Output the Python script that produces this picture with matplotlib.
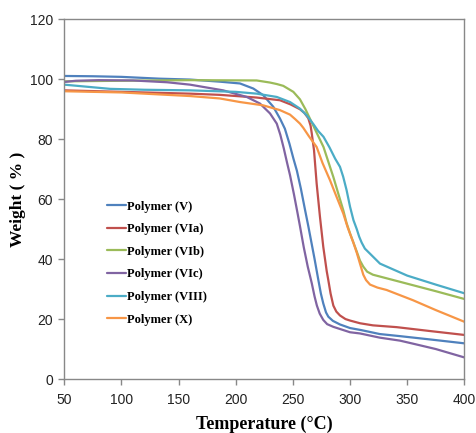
import matplotlib
matplotlib.use("Agg")
import matplotlib.pyplot as plt

# ---- data ----
t_v = [50, 75, 100, 133, 160, 186, 203.7, 215.4, 224, 232.9, 238.7, 243, 247, 250.5, 253.5, 257, 260.6, 263.5,
       266.5, 269, 272.3, 274.5, 276.6, 279, 281, 285, 291.2, 300, 310, 326, 343.7, 370, 400]
w_v = [101.1, 101, 100.8, 100.2, 99.9, 99.2, 98.6, 96.9, 94.7, 90.8, 86.9, 83.5, 78.5, 73.5, 69.5, 63.5, 56.5, 51,
       45, 40, 33, 28.5, 25.2, 22.2, 20.8, 19.4, 18.2, 17, 16.3, 15, 14.3, 13.2, 11.9]

t_via = [50, 100, 160, 186, 218.3, 238.7, 248, 256.2, 260, 263.5, 265.5, 266.5, 268.5, 270.8, 273.7, 276.6, 279.6,
         281, 283, 285.4, 288, 291.2, 296, 300, 308.7, 320, 340.8, 370, 400]
w_via = [96.3, 95.8, 95.2, 94.8, 93.9, 93, 91.6, 90, 88.8, 87, 84.5, 82, 76.3, 65.2, 54.1, 44.1, 36,
         33, 28.5, 24.5, 22.5, 21.2, 20, 19.5, 18.6, 17.9, 17.3, 16, 14.7]

t_vib = [50, 100, 160, 218.3, 230, 236, 241.6, 246, 250.4, 256.2, 261, 265, 270, 276.8, 281, 285.4, 290, 294.1,
         297, 300, 303, 305.9, 308.7, 311.6, 315, 320, 332, 350, 375, 400]
w_vib = [99.3, 99.5, 99.7, 99.6, 98.9, 98.4, 97.8, 96.8, 95.8, 93.3, 90, 86.8, 82.8, 77.4, 72.5, 67.4, 61.5, 56.3,
         52, 48.6, 45.5, 42.5, 39.5, 37.5, 35.8, 34.8, 33.6, 31.8, 29.3, 26.7]

t_vic = [50, 60, 80, 110, 140, 160, 189, 209.6, 221.2, 230, 235.9, 239, 242, 245, 247.5, 251, 254, 256.2, 259.5,
         263, 266.5, 269, 271, 273.5, 276.6, 280, 285.4, 300, 308.7, 326, 343.7, 355, 375, 400]
w_vic = [99.1, 99.5, 99.7, 99.6, 99, 98.2, 96.3, 94.1, 91.9, 88.6, 85.2, 81.5, 77, 72, 68, 61.5, 55.5, 51, 44,
         37.5, 32, 27.5, 24.5, 21.8, 19.7, 18.3, 17.4, 15.6, 15.2, 13.8, 12.8, 11.8, 10, 7.2]

t_viii = [50, 70, 90, 120, 160, 200, 218.3, 235.9, 247.5, 256.2, 262, 268, 272, 276.8, 282, 287, 291.2, 294, 297,
          300, 303, 305.9, 308, 310.2, 313, 317.5, 326.2, 350, 375, 400]
w_viii = [98.2, 97.5, 96.8, 96.5, 96.3, 95.8, 95.2, 94.1, 92.4, 90.2, 88, 85, 82.8, 80.8, 77.3, 73.5, 70.8, 67.5, 63,
          57.5, 53, 50, 47.5, 45.5, 43.5, 41.8, 38.5, 34.5, 31.5, 28.6]

t_x = [50, 100, 160, 186, 203.7, 224, 238.7, 247.5, 252, 256.2, 259.1, 264, 270.8, 276, 282.5, 288, 294.1, 298,
       302.9, 306, 308.7, 311.6, 314, 317.5, 324, 332, 355, 375, 400]
w_x = [96, 95.6, 94.4, 93.6, 92.4, 91.3, 89.7, 88.2, 86.7, 85.2, 83.8, 81, 77.4, 72, 66.3, 61, 55.2, 50.5,
       45.5, 42, 38.5, 34.8, 33, 31.5, 30.5, 29.7, 26.3, 23, 19.1]

labels = ["Polymer (V)", "Polymer (VIa)", "Polymer (VIb)", "Polymer (VIc)", "Polymer (VIII)", "Polymer (X)"]
colors = ["#4F81BD", "#C0504D", "#9BBB59", "#8064A2", "#4BACC6", "#F79646"]
series = [(t_v, w_v), (t_via, w_via), (t_vib, w_vib), (t_vic, w_vic), (t_viii, w_viii), (t_x, w_x)]

xticks = [50, 100, 150, 200, 250, 300, 350, 400]
yticks = [0, 20, 40, 60, 80, 100, 120]

# ---- figure ----
fig = plt.figure(figsize=(4.77, 4.33), dpi=100)
ax = fig.add_axes([0.1348, 0.1247, 0.8386, 0.8307])

for (t, w), lab, c in zip(series, labels, colors):
    ax.plot(t, w, color=c, lw=1.6, label=lab, solid_capstyle="round", solid_joinstyle="round")

ax.set_xlim(50, 400)
ax.set_ylim(0, 120)
ax.set_xticks(xticks)
ax.set_yticks(yticks)

for s in ax.spines.values():
    s.set_color("#888888")
    s.set_linewidth(1.0)
ax.tick_params(direction="out", length=4, width=1, color="#888888",
               labelsize=10, labelcolor="#222222", pad=4)
for lab in ax.get_xticklabels() + ax.get_yticklabels():
    lab.set_fontfamily("Liberation Sans")
ax.tick_params(axis="x", pad=6)

ax.set_xlabel("Temperature (°C)", fontfamily="Liberation Serif", fontweight="bold",
              fontsize=13, labelpad=6)
ax.set_ylabel("Weight ( % )", fontfamily="Liberation Serif", fontweight="bold",
              fontsize=12.5, labelpad=3)

leg = ax.legend(loc="upper left", bbox_to_anchor=(0.095, 0.51), frameon=False,
                prop={"family": "Liberation Serif", "weight": "bold", "size": 9},
                handlelength=1.5, handletextpad=0.1, labelspacing=0.85,
                borderaxespad=0)

fig.savefig("out.png", dpi=100)
